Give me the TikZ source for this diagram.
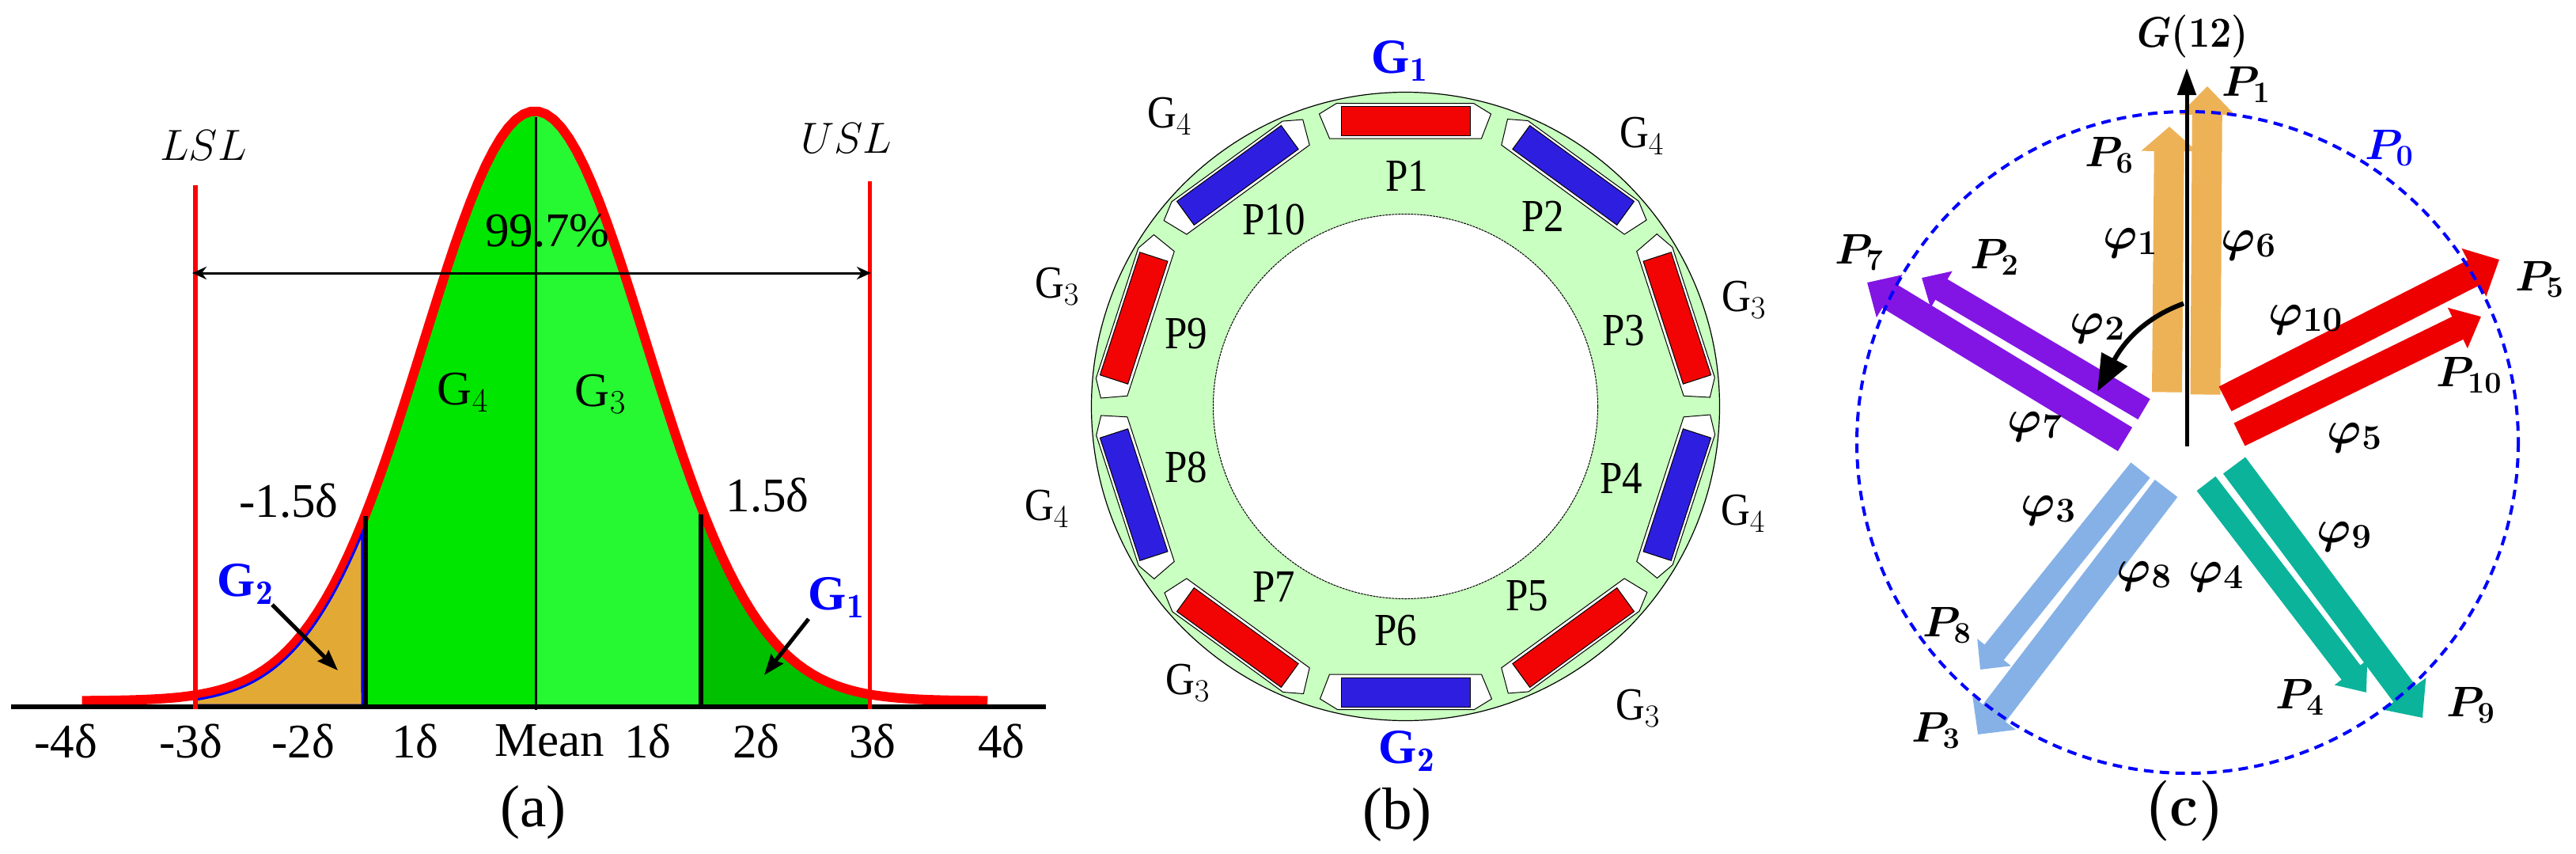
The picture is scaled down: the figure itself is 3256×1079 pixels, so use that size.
\RequirePackage{fix-cm}
\documentclass[tikz,border=0pt]{standalone}
\usepackage{graphicx}
\usepackage{fontspec}
\usetikzlibrary{arrows.meta}
\newfontfamily\tf{Liberation Serif}
\newfontfamily\tfn[FakeStretch=0.88]{Liberation Serif}
\newcommand{\phisub}[1]{$\varphi\lower7pt\hbox{\fontsize{44}{44}\selectfont$\mathbf{#1}$}$}
\definecolor{ringg}{HTML}{C9FFC0}
\definecolor{magred}{HTML}{F20404}
\definecolor{magblue}{HTML}{2E1FE0}
\definecolor{gfour}{HTML}{00E600}
\definecolor{gthree}{HTML}{26F832}
\definecolor{gone}{HTML}{00C000}
\definecolor{gtwo}{HTML}{E2AA35}
\definecolor{orng}{HTML}{EDB256}
\definecolor{purp}{HTML}{8215E4}
\definecolor{rarr}{HTML}{EE0000}
\definecolor{lblue}{HTML}{85B1E6}
\definecolor{teal2}{HTML}{0BB39A}
\tikzset{
  tl/.style={inner sep=0pt,font=\tf\fontsize{61}{66}\selectfont},
  pl/.style={inner sep=0pt,font=\tfn\fontsize{58}{62}\selectfont},
  capl/.style={inner sep=0pt,font=\tf\fontsize{75}{80}\selectfont},
  bluel/.style={inner sep=0pt,text=blue,font=\tf\bfseries\fontsize{62}{64}\selectfont},
  ml/.style={inner sep=0pt,font=\fontsize{54}{56}\selectfont\boldmath},
  phl/.style={inner sep=0pt,font=\fontsize{58}{60}\selectfont\boldmath},
  lslt/.style={inner sep=0pt,font=\fontsize{55}{60}\selectfont},
  blockarr/.style n args={4}{line width=#1pt,draw=#4,-{Triangle[length=#3pt,width=#2pt]}},
  smallarr/.style={line width=5pt,-{Stealth[length=26pt,width=19pt,inset=3pt]}},
  pocket/.style={fill=white,draw=black,line width=1pt},
}
\begin{document}
\begin{tikzpicture}[x=1pt,y=-1pt]
\useasboundingbox (0,0) rectangle (3256,1079);
% ---------- panel a
\fill[gtwo] plot[domain=-3.03:-1.546,samples=50] ({676+141*\x},{891-720*exp(-\x*\x/2)}) -- (458,891) -- (249,891) -- cycle;
\fill[gfour] (462,891) -- plot[domain=-1.52:0,samples=40] ({676+141*\x},{885.5-745*exp(-\x*\x/2)}) -- (677,891) -- cycle;
\fill[gthree] (677,891) -- plot[domain=0:1.49,samples=40] ({676+141*\x},{885.5-745*exp(-\x*\x/2)}) -- (886,891) -- cycle;
\fill[gone] (886,891) -- plot[domain=1.49:3,samples=40] ({676+141*\x},{885.5-745*exp(-\x*\x/2)}) -- (1099,891) -- cycle;
\draw[red,line width=12pt] plot[domain=-4.06:4.06,samples=120] ({676+141*\x},{885.5-745*exp(-\x*\x/2)});
\draw[blue,line width=3pt] plot[domain=-3.03:-1.546,samples=50] ({676+141*\x},{891-720*exp(-\x*\x/2)}) -- (458,891) -- (249,891);
\coordinate (axl) at (14,893); \coordinate (axr) at (1322,893);
\draw[black,line width=6.5pt] (axl) -- (axr);
\coordinate (lslt) at (247,234); \coordinate (lslb) at (247,896);
\coordinate (uslt) at (1099.5,229); \coordinate (uslb) at (1099.5,896);
\draw[red,line width=5.5pt] (lslt) -- (lslb);
\draw[red,line width=5.5pt] (uslt) -- (uslb);
\coordinate (lt) at (462,652); \coordinate (lb) at (462,893);
\coordinate (rt) at (886,650); \coordinate (rb) at (886,893);
\draw[black,line width=6pt] (lt) -- (lb);
\draw[black,line width=6pt] (rt) -- (rb);
\coordinate (mt) at (677.5,148); \coordinate (mb) at (677.5,897);
\draw[black,line width=3.2pt] (mt) -- (mb);
\coordinate (dl) at (243,345); \coordinate (dr) at (1101,345);
\draw[black,line width=3pt,{Stealth[length=18pt,width=16pt]}-{Stealth[length=18pt,width=16pt]}] (dl) -- (dr);
\node[lslt] (lsl) at (257,184) {$LSL$};
\node[lslt] (usl) at (1070,175) {$USL$};
\node[tl] (pct) at (692,292) {99.7\%};
\node[tl] (g4a) at (585,496) {G$_4$};
\node[tl] (g3a) at (759,498) {G$_3$};
\node[tl] (m15) at (365,632.5) {-1.5δ};
\node[tl] (p15) at (970,626) {1.5δ};
\node[bluel] (g2a) at (310,738) {G$_{\mathbf 2}$};
\node[bluel] (g1a) at (1057,755) {G$_{\mathbf 1}$};
\coordinate (g2s) at (344,764); \coordinate (g2t) at (427,847);
\coordinate (g1s) at (1022,782); \coordinate (g1t) at (966,853);
\draw[smallarr] (g2s) -- (g2t);
\draw[smallarr] (g1s) -- (g1t);
\foreach \n/\x/\t in {a/83/-4δ,b/241/-3δ,c/383/-2δ,d/525/1δ,e/695/Mean,f/819/1δ,g/956/2δ,h/1103/3δ,i/1266/4δ}
  \node[tl] (tick\n) at (\x,936) {\t};
\node[capl] (capa) at (674,1026) {(a)};
% ---------- panel b
\coordinate (cb) at (1776.5,513.5);
\draw[fill=ringg,draw=black,line width=1.2pt] (cb) circle[radius=397];
\draw[fill=white,draw=black,line width=1pt,dash pattern=on 3pt off 1pt] (cb) circle[radius=243];
\foreach \i/\c in {0/magred,1/magblue,2/magred,3/magblue,4/magred,5/magblue,6/magred,7/magblue,8/magred,9/magblue}{
  \begin{scope}[shift={(1776.5,513.5)},rotate=-36*\i]
    \draw[pocket] (-109,-369.5) -- (-87,-383) -- (86,-383) -- (108,-369.5) -- (96,-338.5) -- (-96,-338.5) -- cycle;
    \draw[fill=\c,draw=black,line width=1pt] (-81.5,-379.5) rectangle (81.5,-342.5);
  \end{scope}
}
\node[bluel] (g1b) at (1769,77) {G$_{\mathbf 1}$};
\node[bluel] (g2b) at (1778,949) {G$_{\mathbf 2}$};
\foreach \n/\x/\y/\t in {a/1478/147/G$_4$,b/2075/172/G$_4$,c/2204/379/G$_3$,d/2203/649/G$_4$,e/1336/362/G$_3$,f/1323/643/G$_4$,g/1501/863/G$_3$,h/2070/895/G$_3$}
  \node[pl] (gb\n) at (\x,\y) {\t};
\foreach \n/\x/\y in {1/1778/222,2/1950/273.5,3/2052/418,4/2049/604.5,5/1930/753,6/1764/797,7/1610/742,8/1499/590,9/1499/422,10/1610/277.5}
  \node[pl] (pole\n) at (\x,\y) {P\n};
\node[capl] (capb) at (1766,1029) {(b)};
% ---------- panel c
\coordinate (p1s) at (2787.5,498.5); \coordinate (p1e) at (2790,109);
\coordinate (p6s) at (2739,495.5); \coordinate (p6e) at (2742,160);
\draw[blockarr={38}{68}{36}{orng}] (p1s) -- (p1e);
\draw[blockarr={38}{69}{31}{orng}] (p6s) -- (p6e);
\coordinate (p7s) at (2686,555); \coordinate (p7e) at (2360,357);
\coordinate (p2s) at (2710,517); \coordinate (p2e) at (2429,351);
\draw[blockarr={35}{61}{33}{purp}] (p7s) -- (p7e);
\draw[blockarr={30}{52}{29}{purp}] (p2s) -- (p2e);
\coordinate (p5s) at (2812.5,504); \coordinate (p5e) at (3159,328);
\coordinate (p10s) at (2830.5,549); \coordinate (p10e) at (3136,400);
\draw[blockarr={35}{66}{36}{rarr}] (p5s) -- (p5e);
\draw[blockarr={32}{55}{33}{rarr}] (p10s) -- (p10e);
\coordinate (p8s) at (2705.5,594); \coordinate (p8e) at (2503,846);
\coordinate (p3s) at (2738,617); \coordinate (p3e) at (2500,928);
\draw[blockarr={31}{53}{28}{lblue}] (p8s) -- (p8e);
\draw[blockarr={36}{67}{34}{lblue}] (p3s) -- (p3e);
\coordinate (p4s) at (2788.5,611); \coordinate (p4e) at (2991,875);
\coordinate (p9s) at (2824,588); \coordinate (p9e) at (3062,907);
\draw[blockarr={30}{50}{32}{teal2}] (p4s) -- (p4e);
\draw[blockarr={35}{65}{38}{teal2}] (p9s) -- (p9e);
\coordinate (cc) at (2765,559);
\draw[blue,line width=4pt,dash pattern=on 12pt off 8pt] (cc) circle[radius=418];
\coordinate (gs) at (2764,564); \coordinate (ge) at (2764,86);
\draw[black,line width=5pt,-{Triangle[length=34pt,width=23pt]}] (gs) -- (ge);
\coordinate (cs) at (2760,383.5); \coordinate (ce) at (2651,494.5);
\draw[black,line width=6pt,-{Triangle[length=46pt,width=36pt]}] (cs) .. controls (2712,401) and (2685,431) .. (ce);
\node[ml] (gtw) at (2772,46) {\scalebox{.9}[1]{$G(12)$}};
\foreach \n/\x/\y/\t in {a/2839/106.7/1,b/2666/196/6,d/2350/319/7,e/2521/325/2,f/3210/353/5,g/3121/474/{10},h/2461/790/8,i/2907/881/4,j/3123/891/9,k/2447/923/3}
  \node[ml] (pc\n) at (\x,\y) {$P_{\t}$};
\node[ml,text=blue] (pzero) at (3020,187) {$P_0$};
\foreach \n/\x/\y/\t in {a/2692.5/307.5/1,b/2842/310/6,c/2651/415/2,d/2914/404/10,e/2572/539/7,f/2976/553/5,g/2589/645/3,h/2963/678/9,i/2710/728/8,j/2801/729/4}
  \node[phl] (ph\n) at (\x,\y) {\phisub{\t}};
\node[inner sep=0pt,font=\fontsize{76}{80}\selectfont\boldmath] (capc) at (2761,1024) {\scalebox{.95}[1]{$(\mathbf{c})$}};
\end{tikzpicture}
\end{document}
